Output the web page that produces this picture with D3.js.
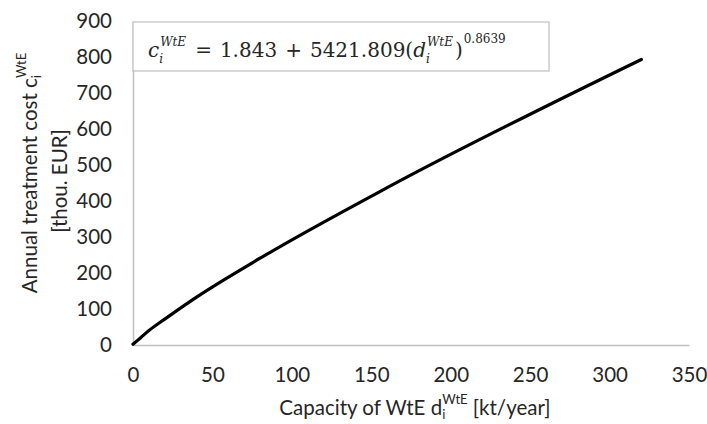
<!DOCTYPE html>
<html>
<head>
<meta charset="utf-8">
<script src="https://cdn.jsdelivr.net/npm/d3@7"></script>
<style>
  body { margin: 0; background: #fff; }
  text { font-family: Lato, "Open Sans", sans-serif; fill: #262626; }
</style>
</head>
<body>
<div id="chart"></div>
<script>
// capacity d [kt/year] and annual treatment cost c [thou. EUR]
var capacity = [0, 5, 10, 20, 40, 80, 160, 320];
var cost = [2, 21, 40, 72, 133, 241, 437, 793];
var xTicks = [0, 50, 100, 150, 200, 250, 300, 350];
var yTicks = [0, 100, 200, 300, 400, 500, 600, 700, 800, 900];

var W = 707, H = 424;
var margin = { top: 21, right: 18, bottom: 79, left: 133 },
  width = W - margin.left - margin.right,
  height = H - margin.top - margin.bottom;
var fs = "20.5px";

var data = capacity.map(function (d, i) { return { d: d, c: cost[i] }; });

var svg = d3.select("#chart")
  .append("svg")
  .attr("width", W)
  .attr("height", H);

var g = svg.append("g")
  .attr("transform", "translate(" + margin.left + "," + margin.top + ")");

var x = d3.scaleLinear().domain([0, 350]).range([0, width]);
var y = d3.scaleLinear().domain([0, 900]).range([height, 0]);

// axes
var xAxis = g.append("g")
  .attr("transform", "translate(0," + height + ")")
  .call(d3.axisBottom(x).tickValues(xTicks).tickSize(0).tickPadding(22));
xAxis.select(".domain").attr("stroke", "#bfbfbf").attr("stroke-width", 1.5);
xAxis.selectAll("text").style("font-size", fs).attr("fill", "#262626");

var yAxis = g.append("g")
  .call(d3.axisLeft(y).tickValues(yTicks).tickSize(0).tickPadding(21));
yAxis.select(".domain").attr("stroke", "#bfbfbf").attr("stroke-width", 1.5);
yAxis.selectAll("text").style("font-size", fs).attr("fill", "#262626");

// curve
var line = d3.line()
  .curve(d3.curveMonotoneX)
  .x(function (d) { return x(d.d); })
  .y(function (d) { return y(d.c); });

g.append("path")
  .datum(data)
  .attr("d", line)
  .attr("fill", "none")
  .attr("stroke", "#000")
  .attr("stroke-width", 3.2)
  .attr("stroke-linecap", "round");

// equation box
var box = g.append("g").attr("transform", "translate(0,1)");
box.append("rect")
  .attr("x", 0).attr("y", 0)
  .attr("width", 416).attr("height", 49)
  .attr("fill", "#fff")
  .attr("stroke", "#bfbfbf")
  .attr("stroke-width", 1.2);

// equation pieces laid out one after another
var base = 35, cx = 15;
function piece(str, opt) {
  var t = box.append("text")
    .attr("x", cx + (opt.dx || 0))
    .attr("y", base + (opt.dy || 0))
    .style("font-family", "'DejaVu Serif', serif")
    .style("font-size", (opt.size || 20) + "px")
    .style("font-style", opt.italic ? "italic" : "normal")
    .attr("fill", "#000")
    .text(str);
  return t.node().getComputedTextLength();
}
function withScripts(letter) {
  cx += piece(letter, { italic: true });
  var w1 = piece("WtE", { italic: true, size: 12, dy: -11, dx: 1 });
  var w2 = piece("i", { italic: true, size: 12, dy: 6 });
  cx += Math.max(w1, w2) + 3;
}
withScripts("c");
cx += 7;
cx += piece("=", {}) + 8;
cx += piece("1.843", {}) + 8;
cx += piece("+", {}) + 8;
cx += piece("5421.809(", {});
withScripts("d");
cx += piece(")", {});
piece("0.8639", { size: 12, dy: -14, dx: 1 });

// x axis title
var xt = svg.append("text")
  .attr("x", 415)
  .attr("y", 415)
  .attr("text-anchor", "middle")
  .style("font-size", fs);
xt.append("tspan").text("Capacity of WtE d");
xt.append("tspan").attr("dy", 4).style("font-size", "13px").text("i");
xt.append("tspan").attr("dx", -3).attr("dy", -15).style("font-size", "13px").text("WtE");
xt.append("tspan").attr("dy", 11).text(" [kt/year]");

// y axis title (two lines)
var yc = margin.top + height / 2;
var yt = svg.append("text")
  .attr("transform", "translate(37," + (yc - 10) + ") rotate(-90)")
  .attr("text-anchor", "middle")
  .style("font-size", fs);
yt.append("tspan").text("Annual treatment cost c");
yt.append("tspan").attr("dy", 4).style("font-size", "13px").text("i");
yt.append("tspan").attr("dx", -3).attr("dy", -15).style("font-size", "13px").text("WtE");

svg.append("text")
  .attr("transform", "translate(67," + (yc - 2) + ") rotate(-90)")
  .attr("text-anchor", "middle")
  .style("font-size", fs)
  .text("[thou. EUR]");
</script>
</body>
</html>
